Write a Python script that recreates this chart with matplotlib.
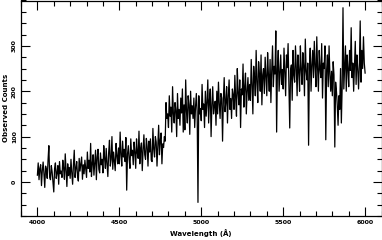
import numpy as np
import matplotlib
matplotlib.use("Agg")
import matplotlib.pyplot as plt
from matplotlib.ticker import MultipleLocator

# wavelength grid, 5 A per sample
wave_start = 4000
wave_step = 5

# observed counts, one row per 100 A
counts = [
    15, 42, 5, 30, 38, -8, 25, 44, 18, -12, 35, 28, 8, 48, 80, 10, 5, 36, 22, 0,               # 4000
    -22, 30, 42, 8, 20, 36, -5, 45, 18, 24, 10, 48, 30, 6, 62, 25, -10, 40, 14, 32,            # 4100
    8, 50, 20, -5, 38, 70, 10, 30, 45, 14, 2, 52, 24, 40, 55, 6, 38, 18, 48, 28,               # 4200
    10, 66, 30, 48, 22, 85, 12, 40, 60, 15, 44, 70, 5, 55, 72, 28, 20, 64, 38, 50,             # 4300
    20, 80, 52, 30, 74, 40, 12, 65, 92, 35, 50, 100, 28, 66, 45, 25, 85, 58, 40, 75,           # 4400
    40, 110, 60, 35, 90, 55, 72, 45, 98, -18, 62, 80, 50, 30, 95, 58, 70, 38, 88, 66,          # 4500
    30, 95, 64, 52, 112, 40, 74, 86, 25, 70, 104, 60, 50, 96, 78, 35, 90, 66, 95, 48,          # 4600
    45, 118, 72, 55, 100, 88, 35, 80, 125, 60, 92, 108, 40, 84, 76, 100, 90, 175, 140, 150,    # 4700
    120, 190, 145, 165, 110, 210, 150, 130, 175, 158, 100, 195, 140, 160, 125, 185, 152, 205, 110, 170,  # 4800
    115, 225, 155, 130, 190, 170, 105, 200, 150, 168, 140, 185, 120, 165, 195, 155, -45, 190, 150, 162,  # 4900
    135, 215, 160, 172, 120, 200, 145, 175, 225, 130, 180, 205, 100, 170, 210, 150, 168, 178, 125, 200,  # 5000
    150, 220, 172, 140, 195, 185, 90, 182, 230, 155, 176, 210, 130, 190, 225, 160, 184, 140, 205, 192,   # 5100
    160, 235, 185, 145, 250, 196, 170, 225, 120, 205, 192, 260, 165, 210, 240, 150, 200, 230, 180, 215,  # 5200
    180, 270, 215, 150, 255, 230, 190, 290, 220, 175, 265, 238, 200, 280, 170, 236, 250, 195, 275, 235,  # 5300
    190, 285, 236, 200, 270, 175, 245, 300, 210, 255, 238, 333, 110, 250, 290, 200, 240, 280, 215, 248,  # 5400
    205, 295, 240, 190, 280, 252, 305, 215, 119, 246, 258, 180, 290, 236, 220, 300, 252, 190, 280, 245,  # 5500
    200, 300, 248, 215, 285, 256, 190, 315, 244, 225, 262, 81, 250, 295, 200, 258, 290, 230, 310, 255,   # 5600
    210, 320, 250, 200, 290, 248, 230, 305, 185, 262, 250, 300, 93, 246, 280, 210, 300, 238, 200, 244,   # 5700
    190, 265, 236, 77, 220, 200, 170, 125, 190, 160, 250, 130, 210, 384, 205, 250, 300, 200, 280, 250,   # 5800
    210, 290, 246, 340, 230, 262, 200, 256, 310, 215, 280, 250, 205, 258, 355, 220, 290, 250, 320, 262,  # 5900
    240,                                                                                         # 6000
]
wave = wave_start + wave_step * np.arange(len(counts))

x_major = [4000, 4500, 5000, 5500, 6000]
x_labels = ["4000", "4500", "5000", "5500", "6000"]
y_major = [0, 100, 200, 300]
y_labels = ["0", "100", "200", "300"]

fig = plt.figure(figsize=(3.82, 2.40), dpi=100)
ax = fig.add_axes([21 / 382, 24 / 240, 360.5 / 382, 215.5 / 240])

ax.plot(wave, counts, color="black", lw=0.9)

ax.set_xlim(3900, 6100)
ax.set_ylim(-75, 400)

ax.set_xticks(x_major)
ax.set_xticklabels(x_labels, fontweight="bold")
ax.set_yticks(y_major)
ax.set_yticklabels(y_labels, rotation=90, va="center", fontweight="bold")
ax.xaxis.set_minor_locator(MultipleLocator(100))
ax.yaxis.set_minor_locator(MultipleLocator(25))

ax.tick_params(which="both", direction="in", top=True, right=True,
               width=0.8, labelsize=4.5, colors="black")
ax.tick_params(which="major", length=6.5)
ax.tick_params(which="minor", length=3.5)
ax.tick_params(axis="x", pad=3)
ax.tick_params(axis="y", pad=3)

for s in ax.spines.values():
    s.set_linewidth(0.9)

ax.set_xlabel("Wavelength (Å)", fontsize=5, fontweight="bold", labelpad=3)
ax.set_ylabel("Observed Counts", fontsize=5, fontweight="bold", labelpad=2)

fig.savefig("out.png", dpi=100)
